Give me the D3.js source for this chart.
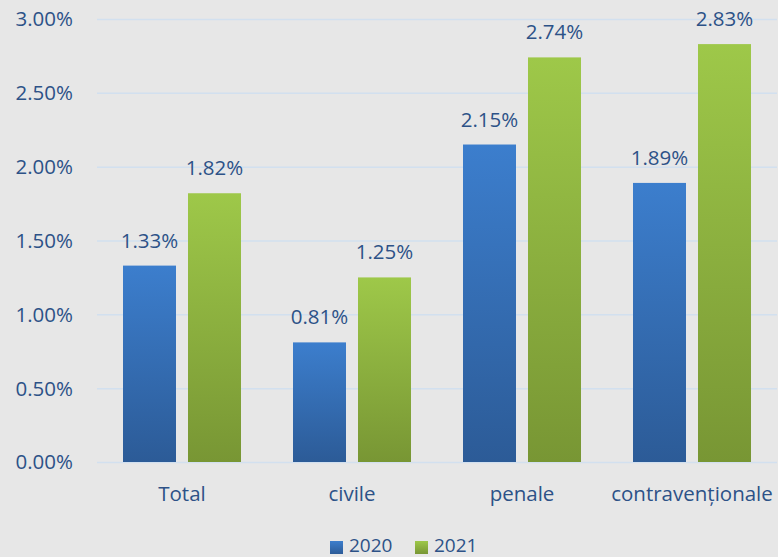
<!DOCTYPE html>
<html>
<head>
<meta charset="utf-8">
<script src="https://cdn.jsdelivr.net/npm/d3@7"></script>
<style>
  body { margin: 0; background: #e7e7e7; }
  svg { display: block; font-family: "Open Sans", Lato, sans-serif; }
</style>
</head>
<body>
<div id="chart"></div>
<script>
const categories = ["Total", "civile", "penale", "contravenționale"];
const years = ["2020", "2021"];
const values2020 = [1.33, 0.81, 2.15, 1.89];
const values2021 = [1.82, 1.25, 2.74, 2.83];
const yTicks = [0, 0.5, 1, 1.5, 2, 2.5, 3];

const width = 778, height = 557;
const margin = {top: 19, right: 1, bottom: 95, left: 97};
const textColor = "#2d5287";
const fontSize = 20.5;

const svg = d3.select("#chart").append("svg")
    .attr("width", width)
    .attr("height", height);

svg.append("rect").attr("width", width).attr("height", height).attr("fill", "#e7e7e7");

const defs = svg.append("defs");
const gradBlue = defs.append("linearGradient").attr("id", "gBlue")
    .attr("x1", 0).attr("x2", 0).attr("y1", 0).attr("y2", 1);
gradBlue.append("stop").attr("offset", "0%").attr("stop-color", "#3c7ecd");
gradBlue.append("stop").attr("offset", "100%").attr("stop-color", "#2c5b97");
const gradGreen = defs.append("linearGradient").attr("id", "gGreen")
    .attr("x1", 0).attr("x2", 0).attr("y1", 0).attr("y2", 1);
gradGreen.append("stop").attr("offset", "0%").attr("stop-color", "#9ec849");
gradGreen.append("stop").attr("offset", "100%").attr("stop-color", "#789634");

const x = d3.scaleBand()
    .domain(categories)
    .range([margin.left, width - margin.right]);

const y = d3.scaleLinear()
    .domain([0, 3])
    .range([height - margin.bottom, margin.top]);

// grid
svg.append("g").selectAll("line")
    .data(yTicks)
    .join("line")
    .attr("x1", margin.left)
    .attr("x2", width - margin.right)
    .attr("y1", d => y(d) + 0.5)
    .attr("y2", d => y(d) + 0.5)
    .attr("stroke", "#d2e0ef")
    .attr("stroke-width", 1.5);

// y tick labels
svg.append("g").selectAll("text")
    .data(yTicks)
    .join("text")
    .attr("x", 73)
    .attr("y", d => y(d))
    .attr("dy", "0.36em")
    .attr("text-anchor", "end")
    .attr("fill", textColor)
    .attr("font-size", fontSize)
    .text(d => d3.format(".2f")(d) + "%");

const barW = 53, gap = 12;
const series = [
    {name: years[0], vals: values2020, fill: "url(#gBlue)", off: -(gap / 2 + barW)},
    {name: years[1], vals: values2021, fill: "url(#gGreen)", off: gap / 2}
];

series.forEach(s => {
    const g = svg.append("g");
    g.selectAll("rect")
        .data(categories)
        .join("rect")
        .attr("x", (c) => x(c) + x.bandwidth() / 2 + s.off)
        .attr("y", (c, i) => y(s.vals[i]))
        .attr("width", barW)
        .attr("height", (c, i) => y(0) - y(s.vals[i]))
        .attr("fill", s.fill);
    g.selectAll("text")
        .data(categories)
        .join("text")
        .attr("x", (c) => x(c) + x.bandwidth() / 2 + s.off + barW / 2)
        .attr("y", (c, i) => y(s.vals[i]) - 18)
        .attr("text-anchor", "middle")
        .attr("fill", textColor)
        .attr("font-size", fontSize)
        .text((c, i) => d3.format(".2f")(s.vals[i]) + "%");
});

// x labels
svg.append("g").selectAll("text")
    .data(categories)
    .join("text")
    .attr("x", c => x(c) + x.bandwidth() / 2)
    .attr("y", y(0) + 39)
    .attr("text-anchor", "middle")
    .attr("fill", textColor)
    .attr("font-size", fontSize)
    .text(c => c);

// legend
const legend = svg.append("g");
const legendItems = [
    {name: years[0], fill: "url(#gBlue)", x: 330},
    {name: years[1], fill: "url(#gGreen)", x: 415}
];
legendItems.forEach(l => {
    legend.append("rect")
        .attr("x", l.x).attr("y", 541)
        .attr("width", 13).attr("height", 13)
        .attr("fill", l.fill);
    legend.append("text")
        .attr("x", l.x + 19).attr("y", 552)
        .attr("fill", textColor)
        .attr("font-size", 19)
        .text(l.name);
});
</script>
</body>
</html>
